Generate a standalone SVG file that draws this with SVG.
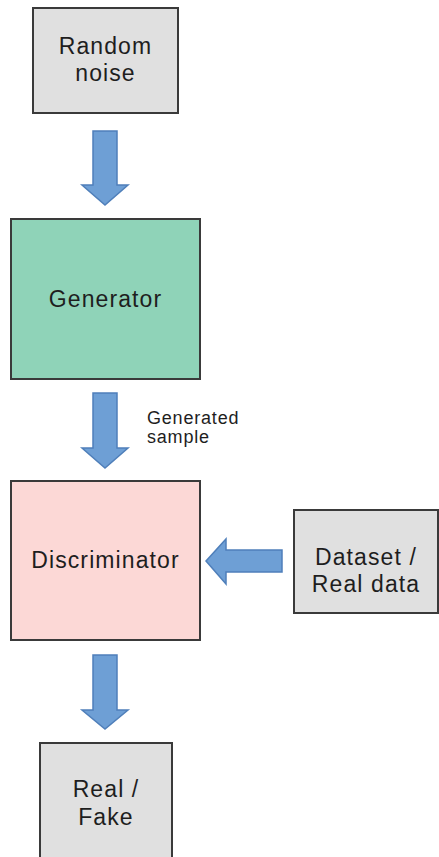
<svg xmlns="http://www.w3.org/2000/svg" width="439" height="857" viewBox="0 0 439 857">
<style>
.box{stroke:#3a3a3a;stroke-width:2}
.gray{fill:#e0e0e0}
.t{font-family:"Liberation Sans",Arial,sans-serif;font-size:23px;fill:#1e1e1e;text-anchor:middle;letter-spacing:1.1px}
.s{font-family:"Liberation Sans",Arial,sans-serif;font-size:18px;fill:#1e1e1e;letter-spacing:0.8px}
.arr{fill:#6e9fd5;stroke:#4f7fba;stroke-width:1.5;stroke-linejoin:miter}
</style>
<rect width="439" height="857" fill="#ffffff"/>
<g id="random-noise">
<rect class="box gray" x="33" y="8" width="145" height="105"/>
<text class="t" x="105.5" y="54">Random</text>
<text class="t" x="105.5" y="81">noise</text>
</g>
<g id="generator">
<rect class="box" x="11" y="219" width="189" height="160" fill="#8fd3b8"/>
<text class="t" x="105.5" y="307">Generator</text>
</g>
<g id="discriminator">
<rect class="box" x="11" y="481" width="189" height="159" fill="#fcd8d6"/>
<text class="t" x="105.5" y="568">Discriminator</text>
</g>
<g id="dataset">
<rect class="box gray" x="294" y="510" width="144" height="103"/>
<text class="t" x="366" y="565">Dataset /</text>
<text class="t" x="366" y="592">Real data</text>
</g>
<g id="real-fake">
<rect class="box gray" x="40" y="743" width="132" height="130"/>
<text class="t" x="106" y="797">Real /</text>
<text class="t" x="106" y="825">Fake</text>
</g>
<g id="connectors">
<path class="arr" d="M93,131 H117 V185 H128 L105,205 L82,185 H93 Z"/>
<path class="arr" d="M93,393 H117 V448 H128 L105,468 L82,448 H93 Z"/>
<path class="arr" d="M282,550 V572 H226 V584 L206,561 L226,539 V550 Z"/>
<path class="arr" d="M93,655 H117 V710 H128 L105,729 L82,710 H93 Z"/>
<text class="s" x="147" y="424">Generated</text>
<text class="s" x="147" y="443">sample</text>
</g>
</svg>
